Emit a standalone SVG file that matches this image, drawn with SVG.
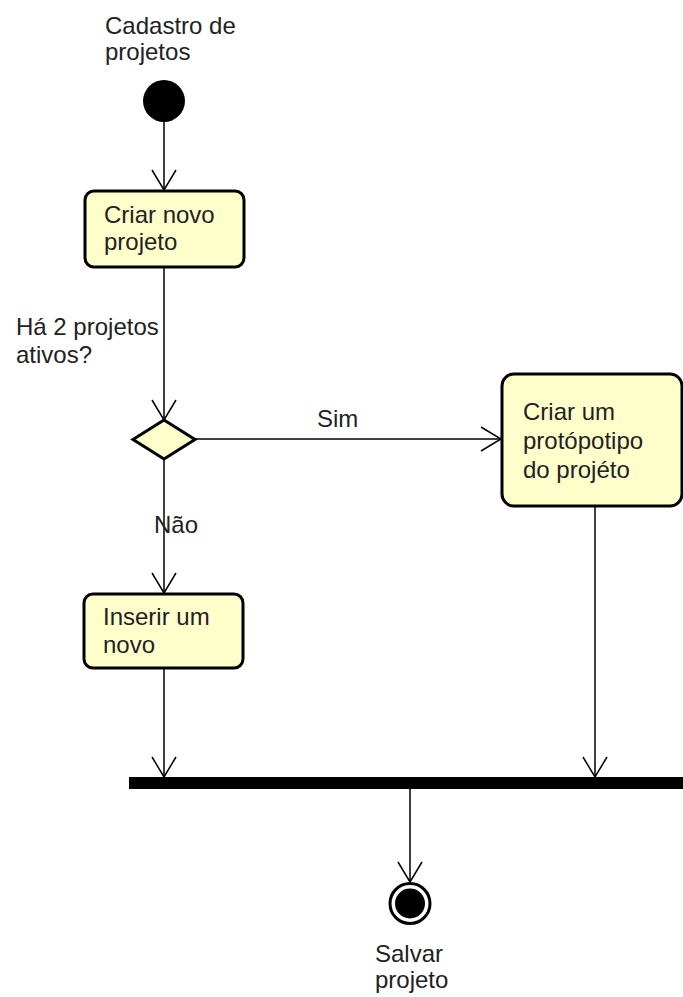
<svg xmlns="http://www.w3.org/2000/svg" width="683" height="997" viewBox="0 0 683 997">
  <style>
    .lbl { font-family: "Liberation Sans", Arial, sans-serif; font-size: 24px; fill: #222; }
    .act { fill: #FFFFCC; stroke: #000; stroke-width: 3; }
    .flow { fill: none; stroke: #000; stroke-width: 1.5; marker-end: url(#open); }
  </style>
  <defs>
    <!-- open "V" arrowhead, tip at the end of the line -->
    <marker id="open" viewBox="0 0 22 26" refX="21" refY="13" markerWidth="22" markerHeight="26" markerUnits="userSpaceOnUse" orient="auto">
      <path d="M1,1 L21,13 L1,25" fill="none" stroke="#000" stroke-width="1.5"/>
    </marker>
  </defs>
  <rect width="683" height="997" fill="#fff"/>

  <g id="connectors">
    <line class="flow" x1="164" y1="122" x2="164" y2="190"/>
    <line class="flow" x1="164" y1="268" x2="164" y2="420"/>
    <line class="flow" x1="195" y1="439" x2="501" y2="439"/>
    <line class="flow" x1="164" y1="459" x2="164" y2="593"/>
    <line class="flow" x1="164" y1="669" x2="164" y2="777"/>
    <line class="flow" x1="595" y1="507" x2="595" y2="777"/>
    <line class="flow" x1="410" y1="789" x2="410" y2="882"/>
    <text class="lbl" x="317" y="427">Sim</text>
    <text class="lbl" x="154" y="533">Não</text>
  </g>

  <g id="start">
    <circle cx="164" cy="101" r="21" fill="#000"/>
    <text class="lbl" x="105" y="34">Cadastro de</text>
    <text class="lbl" x="105" y="60">projetos</text>
  </g>

  <g id="criar-novo-projeto">
    <rect class="act" x="85" y="191" width="159" height="76" rx="9"/>
    <text class="lbl" x="104" y="223">Criar novo</text>
    <text class="lbl" x="104" y="250">projeto</text>
  </g>

  <g id="decisao">
    <polygon points="164,420 195,439.5 164,459 133,439.5" fill="#FFFFCC" stroke="#000" stroke-width="3"/>
    <text class="lbl" x="16" y="335">Há 2 projetos</text>
    <text class="lbl" x="16" y="363">ativos?</text>
  </g>

  <g id="criar-prototipo">
    <rect class="act" x="502" y="374" width="180" height="132" rx="12"/>
    <text class="lbl" x="523" y="420">Criar um</text>
    <text class="lbl" x="523" y="449">protópotipo</text>
    <text class="lbl" x="523" y="478">do projéto</text>
  </g>

  <g id="inserir-novo">
    <rect class="act" x="84" y="594" width="159" height="74" rx="9"/>
    <text class="lbl" x="103" y="625">Inserir um</text>
    <text class="lbl" x="103" y="653">novo</text>
  </g>

  <g id="juncao">
    <rect x="129" y="777" width="554" height="12" fill="#000"/>
  </g>

  <g id="fim">
    <circle cx="410" cy="903.5" r="20" fill="#fff" stroke="#000" stroke-width="3"/>
    <circle cx="410" cy="903.5" r="15" fill="#000"/>
    <text class="lbl" x="375" y="962">Salvar</text>
    <text class="lbl" x="375" y="988">projeto</text>
  </g>
</svg>
